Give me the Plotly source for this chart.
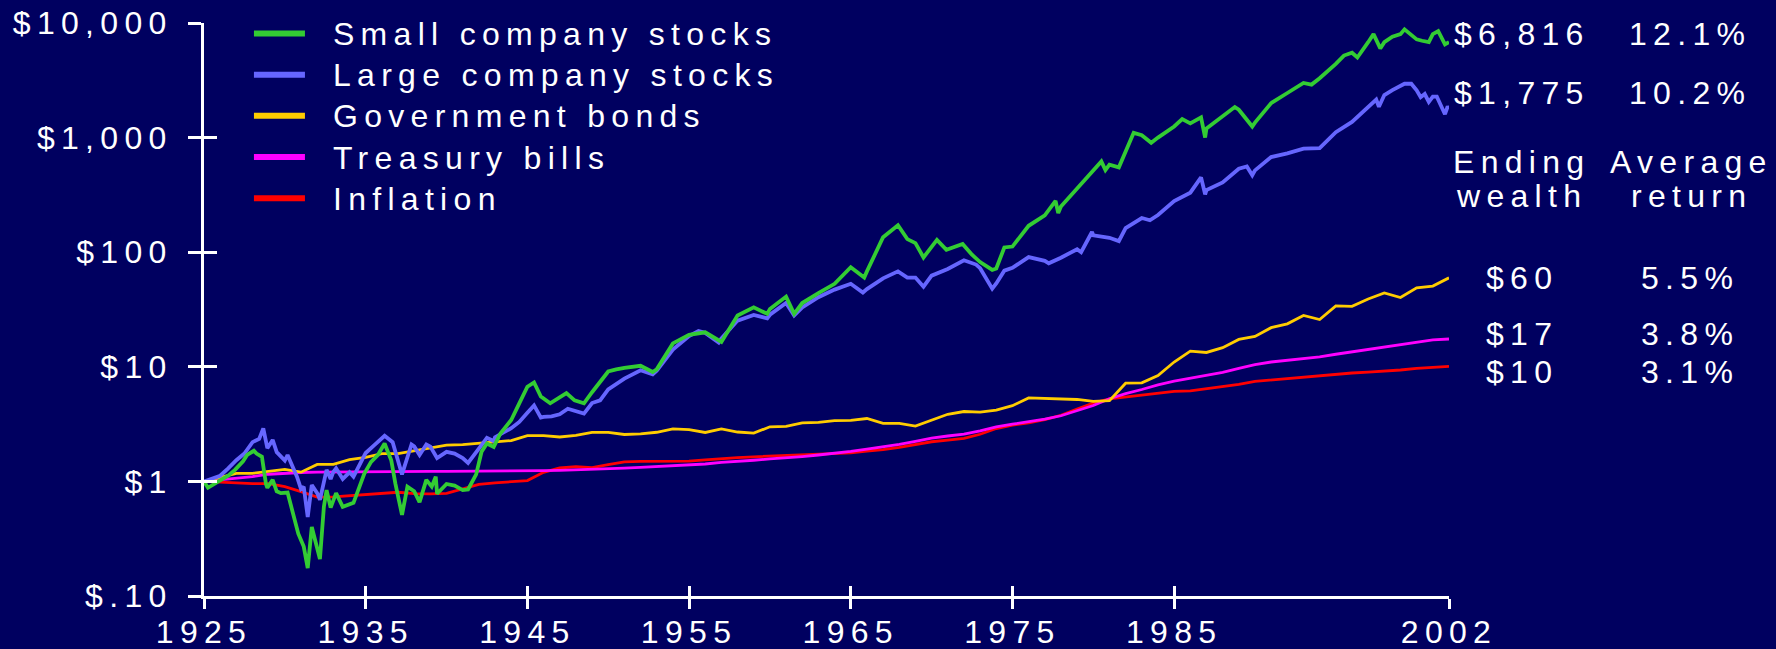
import plotly.graph_objects as go

# ---------------- data ----------------
years = list(range(1925, 2003))  # year-end index values, $1 invested at end of 1925

bonds_ye = [1.000, 1.078, 1.174, 1.175, 1.215, 1.272, 1.204, 1.407, 1.406, 1.547, 1.624,
            1.746, 1.750, 1.847, 1.957, 2.076, 2.095, 2.162, 2.207, 2.269, 2.504,
            2.506, 2.440, 2.525, 2.682, 2.676, 2.567, 2.598, 2.684, 2.870, 2.834,
            2.673, 2.867, 2.697, 2.636, 2.997, 3.027, 3.236, 3.275, 3.389, 3.413,
            3.538, 3.213, 3.203, 3.041, 3.402, 3.853, 4.073, 4.022, 4.196, 4.579,
            5.349, 5.313, 5.248, 5.186, 4.987, 5.071, 7.191, 7.243, 8.377, 11.012,
            13.713, 13.338, 14.683, 17.333, 18.405, 21.942, 23.709, 28.034, 25.856, 34.044,
            33.727, 39.074, 44.178, 40.218, 48.856, 50.662, 59.699]

bills_ye = [1.000, 1.033, 1.065, 1.103, 1.155, 1.183, 1.196, 1.207, 1.211, 1.213, 1.215,
            1.217, 1.221, 1.221, 1.221, 1.221, 1.222, 1.225, 1.229, 1.233, 1.237,
            1.242, 1.248, 1.258, 1.272, 1.287, 1.306, 1.328, 1.352, 1.364, 1.385,
            1.419, 1.464, 1.486, 1.530, 1.571, 1.604, 1.648, 1.700, 1.760, 1.829,
            1.916, 1.997, 2.101, 2.239, 2.385, 2.490, 2.585, 2.764, 2.986, 3.159,
            3.319, 3.489, 3.740, 4.128, 4.592, 5.267, 5.822, 6.335, 6.959, 7.496,
            7.958, 8.393, 8.926, 9.673, 10.429, 11.012, 11.398, 11.728, 12.186, 12.868,
            13.538, 14.250, 14.942, 15.641, 16.563, 17.197, 17.480]

inflation_ye = [1.000, 0.985, 0.965, 0.955, 0.957, 0.899, 0.814, 0.730, 0.734, 0.749, 0.771,
                0.780, 0.804, 0.782, 0.778, 0.786, 0.862, 0.942, 0.971, 0.994, 1.016,
                1.200, 1.309, 1.344, 1.320, 1.398, 1.481, 1.494, 1.503, 1.495, 1.501,
                1.543, 1.589, 1.615, 1.639, 1.663, 1.674, 1.695, 1.723, 1.743, 1.777,
                1.836, 1.892, 1.981, 2.102, 2.218, 2.292, 2.371, 2.579, 2.894, 3.097,
                3.246, 3.466, 3.778, 4.281, 4.812, 5.242, 5.445, 5.652, 5.875, 6.097,
                6.166, 6.438, 6.723, 7.024, 7.460, 7.683, 7.907, 8.120, 8.335, 8.543,
                8.830, 8.989, 9.132, 9.377, 9.694, 9.843, 10.090]

large_dates = ["1925-12", "1926-06", "1926-12", "1927-06", "1927-12", "1928-06", "1928-12", "1929-05",
               "1929-08", "1929-11", "1930-03", "1930-06", "1930-12", "1931-02", "1931-06", "1931-09",
               "1931-12", "1932-02", "1932-05", "1932-08", "1932-12", "1933-02", "1933-07", "1933-10",
               "1933-12", "1934-02", "1934-07", "1934-12", "1935-03", "1935-12", "1936-06", "1936-12",
               "1937-02", "1937-08", "1937-12", "1938-03", "1938-10", "1938-12", "1939-04", "1939-09",
               "1939-12", "1940-05", "1940-12", "1941-06", "1941-12", "1942-04", "1942-12", "1943-06",
               "1943-11", "1943-12", "1944-12", "1945-06", "1945-12", "1946-05", "1946-10", "1946-12",
               "1947-06", "1947-12", "1948-06", "1948-12", "1949-06", "1949-12", "1950-06", "1950-12",
               "1951-12", "1952-12", "1953-09", "1953-12", "1954-12", "1955-12", "1956-07", "1956-12",
               "1957-10", "1957-12", "1958-12", "1959-12", "1960-10", "1960-12", "1961-12", "1962-06",
               "1962-12", "1963-12", "1964-12", "1965-12", "1966-09", "1966-12", "1967-12", "1968-11",
               "1969-06", "1969-12", "1970-06", "1970-12", "1971-12", "1972-12", "1973-09", "1973-12",
               "1974-09", "1974-12", "1975-06", "1975-12", "1976-12", "1977-12", "1978-03", "1978-12",
               "1979-12", "1980-03", "1980-11", "1980-12", "1981-12", "1982-07", "1982-12", "1983-12",
               "1984-06", "1984-12", "1985-12", "1986-12", "1987-08", "1987-11", "1987-12", "1988-12",
               "1989-12", "1990-06", "1990-10", "1990-12", "1991-12", "1992-12", "1993-12", "1994-12",
               "1995-12", "1996-12", "1997-12", "1998-06", "1998-08", "1998-12", "1999-06", "1999-12",
               "2000-03", "2000-08", "2000-12", "2001-03", "2001-06", "2001-09", "2001-12", "2002-03",
               "2002-07", "2002-09", "2002-11", "2002-12"]
large_vals = [1.00, 1.05, 1.12, 1.30, 1.53, 1.75, 2.20, 2.35,
              2.90, 1.95, 2.30, 1.80, 1.52, 1.70, 1.35, 1.10,
              0.86, 0.90, 0.49, 0.93, 0.79, 0.69, 1.26, 1.05,
              1.21, 1.30, 1.05, 1.20, 1.10, 1.77, 2.05, 2.37,
              2.50, 2.20, 1.54, 1.15, 2.10, 2.02, 1.70, 2.10,
              2.01, 1.60, 1.81, 1.75, 1.60, 1.45, 1.93, 2.40,
              2.25, 2.43, 2.91, 3.30, 3.97, 4.60, 3.60, 3.65,
              3.70, 3.85, 4.30, 4.07, 3.90, 4.83, 5.10, 6.36,
              7.89, 9.34, 8.60, 9.24, 14.11, 18.56, 20.5, 19.78,
              16.3, 17.65, 25.30, 28.32, 26.5, 28.46, 36.11, 28.0,
              32.95, 40.47, 47.14, 53.01, 44.5, 47.67, 59.10, 68.0,
              60.0, 60.06, 50.0, 62.47, 71.41, 84.96, 78.0, 72.50,
              48.0, 53.31, 69.0, 73.14, 90.58, 84.08, 80.0, 89.59,
              106.1, 100.0, 150.0, 140.5, 133.6, 125.0, 162.2, 198.7,
              190.0, 211.2, 279.1, 330.7, 450.0, 320.0, 348.0, 406.5,
              534.5, 560.0, 470.0, 517.5, 675.6, 727.4, 800.1, 810.5,
              1113.9, 1370.9, 1828.3, 2150.0, 1860.0, 2350.9, 2600.0, 2845.6,
              2950.0, 2950.0, 2586.5, 2250.0, 2400.0, 2050.0, 2279.1, 2280.0,
              1780.0, 1600.0, 1870.0, 1775.3]

small_dates = ["1925-12", "1926-03", "1926-12", "1927-06", "1927-11", "1928-05", "1928-08", "1929-01",
               "1929-03", "1929-07", "1929-10", "1929-11", "1930-03", "1930-06", "1930-09", "1931-02",
               "1931-06", "1931-10", "1932-02", "1932-05", "1932-08", "1932-12", "1933-02", "1933-05",
               "1933-07", "1933-10", "1934-02", "1934-07", "1935-03", "1935-11", "1936-04", "1936-09",
               "1937-02", "1937-07", "1937-10", "1938-03", "1938-07", "1938-12", "1939-04", "1939-09",
               "1940-01", "1940-04", "1940-05", "1940-12", "1941-06", "1941-12", "1942-04", "1942-10",
               "1943-02", "1943-06", "1943-11", "1944-04", "1944-12", "1945-06", "1945-12", "1946-05",
               "1946-10", "1947-05", "1947-12", "1948-05", "1948-11", "1949-06", "1949-12", "1950-12",
               "1951-06", "1951-12", "1952-12", "1953-09", "1953-12", "1954-12", "1955-12", "1956-12",
               "1957-12", "1958-12", "1959-12", "1960-10", "1960-12", "1961-12", "1962-06", "1962-12",
               "1963-12", "1964-12", "1965-12", "1966-10", "1966-12", "1967-12", "1968-11", "1969-06",
               "1969-12", "1970-06", "1971-04", "1971-11", "1972-11", "1973-06", "1973-12", "1974-09",
               "1974-12", "1975-06", "1975-12", "1976-12", "1977-12", "1978-08", "1978-10", "1978-12",
               "1979-12", "1980-12", "1981-06", "1981-09", "1981-12", "1982-07", "1982-12", "1983-06",
               "1983-12", "1984-07", "1984-12", "1985-12", "1986-06", "1986-12", "1987-08", "1987-11",
               "1987-12", "1988-12", "1989-09", "1989-12", "1990-10", "1990-12", "1991-12", "1992-12",
               "1993-12", "1994-06", "1994-12", "1995-12", "1996-06", "1996-12", "1997-04", "1997-12",
               "1998-04", "1998-09", "1998-12", "1999-06", "1999-12", "2000-03", "2000-12", "2001-04",
               "2001-09", "2001-12", "2002-04", "2002-09", "2002-12"]
small_vals = [1.00, 0.88, 1.02, 1.12, 1.26, 1.50, 1.70, 1.85,
              1.75, 1.64, 0.95, 0.88, 1.03, 0.82, 0.79, 0.80,
              0.53, 0.35, 0.27, 0.175, 0.40, 0.27, 0.21, 0.60,
              0.84, 0.59, 0.79, 0.60, 0.65, 1.17, 1.48, 1.70,
              2.14, 1.53, 0.96, 0.51, 0.90, 0.82, 0.66, 1.03,
              0.90, 1.10, 0.78, 0.95, 0.92, 0.84, 0.85, 1.15,
              1.82, 2.14, 2.00, 2.62, 3.43, 4.80, 6.70, 7.30,
              5.50, 4.80, 5.40, 5.90, 5.10, 4.80, 6.00, 9.10,
              9.5, 9.8, 10.2, 9.0, 9.5, 16.0, 19.0, 20.0,
              16.5, 28.0, 33.0, 29.0, 32.0, 41.0, 29.0, 36.0,
              44.0, 53.0, 74.0, 60.0, 68.0, 135.0, 172.0, 130.0,
              120.0, 90.0, 128.0, 105.0, 118.0, 95.0, 82.0, 70.0,
              72.0, 110.0, 112.0, 170.0, 210.0, 280.0, 220.0, 250.0,
              360.0, 510.0, 620.0, 520.0, 580.0, 550.0, 760.0, 1100.0,
              1050.0, 900.0, 1000.0, 1250.0, 1450.0, 1330.0, 1500.0, 1000.0,
              1200.0, 1550.0, 1850.0, 1750.0, 1250.0, 1350.0, 2000.0, 2450.0,
              3000.0, 2900.0, 3300.0, 4400.0, 5200.0, 5500.0, 5000.0, 6800.0,
              8000.0, 6000.0, 6800.0, 7600.0, 8000.0, 8800.0, 7200.0, 7000.0,
              6800.0, 8000.0, 8500.0, 6500.0, 6816.0]

series_names = ["Small company stocks", "Large company stocks", "Government bonds",
                "Treasury bills", "Inflation"]
series_colors = ["#33CC33", "#6666FF", "#FFCC00", "#FF00FF", "#FF0000"]

tick_years = ["1925", "1935", "1945", "1955", "1965", "1975", "1985", "2002"]
y_tickvals = [0.1, 1, 10, 100, 1000, 10000]
y_ticktext = ["$.10", "$1", "$10", "$100", "$1,000", "$10,000"]

ending_wealth = ["$6,816", "$1,775", "$60", "$17", "$10"]
average_return = ["12.1%", "10.2%", "5.5%", "3.8%", "3.1%"]
label_y = [0.980, 0.878, 0.555, 0.457, 0.391]   # paper positions of the right-hand labels

# ---------------- figure ----------------
BG = "#000060"
FONT0 = "Arial"
FONT = "Arial, Liberation Sans, sans-serif"
FS = 32

ye_dates = [f"{y}-12" for y in years]

fig = go.Figure()
line_data = [
    (small_dates, small_vals, 3.8),
    (large_dates, large_vals, 3.8),
    (ye_dates, bonds_ye, 2.8),
    (ye_dates, bills_ye, 2.8),
    (ye_dates, inflation_ye, 2.8),
]
# draw order: inflation, bills, bonds, large, small (small on top)
for idx in [4, 3, 2, 1, 0]:
    d, v, w = line_data[idx]
    fig.add_trace(go.Scatter(x=d, y=v, mode="lines", name=series_names[idx],
                             line=dict(color=series_colors[idx], width=w),
                             showlegend=False, hoverinfo="skip"))
# legend entries
for name, col in zip(series_names, series_colors):
    fig.add_trace(go.Scatter(x=[None], y=[None], mode="lines", name=name,
                             line=dict(color=col, width=6, dash="51px,80px"),
                             showlegend=True))
# helper trace so the overlay axes get drawn
fig.add_trace(go.Scatter(x=[None], y=[None], xaxis="x2", yaxis="y2", showlegend=False,
                         hoverinfo="skip"))

x_range = ["1925-12", "2002-12"]
tickvals_x = [f"{y}-12" for y in tick_years]

common_axis = dict(showgrid=False, zeroline=False, showline=True, linecolor="white",
                   linewidth=3, tickcolor="white", tickwidth=3, automargin=False)

fig.update_layout(
    template="none",
    width=1776, height=649,
    paper_bgcolor=BG, plot_bgcolor=BG,
    margin=dict(l=204, r=327, t=23, b=53, autoexpand=False),
    font=dict(family=FONT0, size=FS, color="white"),
    showlegend=True,
    legend=dict(x=0.0361, y=1.0265, xanchor="left", yanchor="top",
                bgcolor="rgba(0,0,0,0)", borderwidth=0,
                font=dict(size=29.4, color="white"),
                itemwidth=74, tracegroupgap=0, traceorder="normal"),
    xaxis=dict(type="date", range=x_range, tickvals=tickvals_x, ticktext=tick_years,
               ticks="outside", ticklen=10, tickfont=dict(size=FS, color="white"),
               ticklabelstandoff=-4, **common_axis),
    xaxis2=dict(type="date", range=x_range, tickvals=tickvals_x, ticktext=tick_years,
                overlaying="x", anchor="y", side="bottom", ticks="inside", ticklen=10,
                showticklabels=False, **common_axis),
    yaxis=dict(type="log", range=[-1, 4], tickvals=y_tickvals, ticktext=y_ticktext,
               ticks="outside", ticklen=13, tickfont=dict(size=FS, color="white"),
               ticklabelstandoff=9, **common_axis),
    yaxis2=dict(type="log", range=[-1, 4], tickvals=y_tickvals, overlaying="y", anchor="x",
                side="left", ticks="inside", ticklen=13, showticklabels=False, **common_axis),
)

col_x = [1.0586, 1.1936]
for i in range(len(ending_wealth)):
    fig.add_annotation(x=col_x[0], y=label_y[i], xref="paper", yref="paper",
                       text=ending_wealth[i], showarrow=False, xanchor="center",
                       yanchor="middle", font=dict(size=FS, color="white"))
    fig.add_annotation(x=col_x[1], y=label_y[i], xref="paper", yref="paper",
                       text=average_return[i], showarrow=False, xanchor="center",
                       yanchor="middle", font=dict(size=FS, color="white"))
header = [("Ending", col_x[0], 0.757), ("wealth", col_x[0], 0.698),
          ("Average", 1.1944, 0.757), ("return", 1.1944, 0.698)]
for t, x, y in header:
    fig.add_annotation(x=x, y=y, xref="paper", yref="paper", text=t, showarrow=False,
                       xanchor="center", yanchor="middle", font=dict(size=FS, color="white"))

# page without margins; wide letter spacing like the original slide, then redraw so
# Plotly measures the spaced text
post = ("var st=document.createElement('style');"
        "st.textContent='html,body{margin:0;padding:0;overflow:hidden;background:" + BG + ";}"
        " svg text{letter-spacing:6.3px;} .legendtext{font-size:32px !important;}';"
        "document.head.appendChild(st);"
        "var gd=document.getElementById('{plot_id}');"
        "Plotly.relayout(gd, {'font.family': '" + FONT + "'});")
fig.write_html("out.html", config={"displayModeBar": False}, post_script=post)
